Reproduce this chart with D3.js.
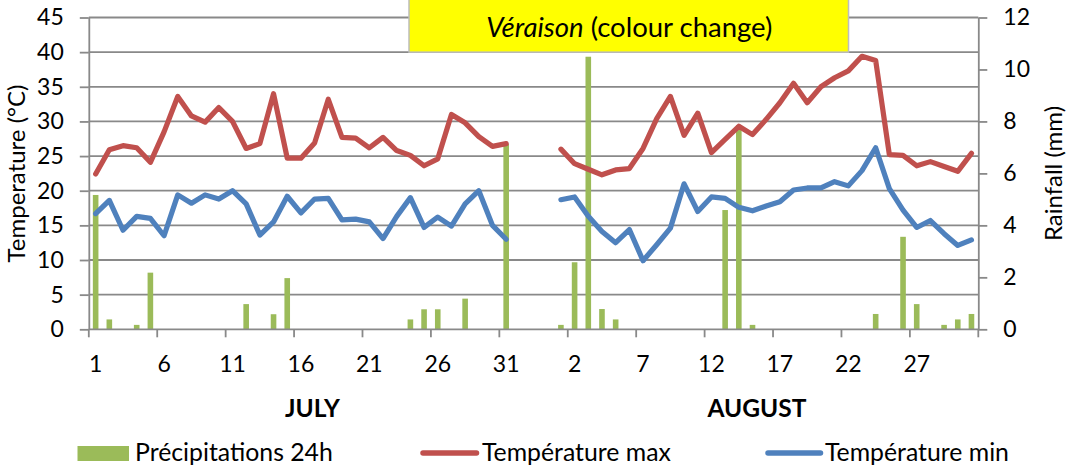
<!DOCTYPE html>
<html><head><meta charset="utf-8">
<script src="https://cdn.jsdelivr.net/npm/d3@7"></script>
<style>
html,body{margin:0;padding:0;background:#fff;}
svg{display:block;font-family:Lato,"Noto Sans",sans-serif;}
</style></head>
<body>
<svg id="chart" width="1070" height="468"></svg>
<script>
// ---------------- DATA ----------------
const julyDays = d3.range(1, 32);
const augustDays = d3.range(1, 32);
const gapCount = 3;

const julyMax = [22.4,25.9,26.5,26.2,24.1,28.5,33.6,30.8,29.9,32.0,30.0,26.1,26.8,34.0,24.7,24.7,26.9,33.2,27.7,27.6,26.2,27.7,25.8,25.1,23.6,24.6,31.0,29.8,27.8,26.4,26.8];
const julyMin = [16.7,18.6,14.3,16.3,16.0,13.5,19.4,18.2,19.4,18.8,20.0,18.1,13.6,15.5,19.2,16.8,18.8,18.9,15.8,15.9,15.5,13.1,16.3,19.0,14.7,16.2,14.9,18.1,20.0,15.0,13.0];
const julyRain = [5.17,0.38,0,0.17,2.18,0,0,0,0,0,0,0.97,0,0.58,1.97,0,0,0,0,0,0,0,0,0.38,0.77,0.77,0,1.18,0,0,7.13];

const augMax = [26.0,23.9,23.1,22.3,23.0,23.2,26.1,30.4,33.6,28.0,31.2,25.5,27.4,29.3,28.1,30.3,32.7,35.5,32.7,35.0,36.3,37.3,39.4,38.8,25.2,25.1,23.6,24.2,23.5,22.8,25.4];
const augMin = [18.7,19.1,16.3,14.1,12.5,14.4,9.9,12.2,14.6,21.0,17.0,19.1,18.9,17.6,17.1,17.8,18.4,20.1,20.4,20.4,21.3,20.7,22.9,26.2,20.3,17.2,14.7,15.7,13.8,12.1,12.9];
const augRain = [0.17,2.58,10.49,0.78,0.38,0,0,0,0,0,0,0,4.59,7.86,0.17,0,0,0,0,0,0,0,0,0.59,0,3.56,0.97,0,0.17,0.38,0.59];

const tempTicks = [0,5,10,15,20,25,30,35,40,45];
const rainTicks = [0,2,4,6,8,10,12];
const monthLabels = ["JULY","AUGUST"];
const legendLabels = ["Précipitations 24h","Température max","Température min"];
const leftTitle = "Temperature (°C)";
const rightTitle = "Rainfall (mm)";
const annotation = ["Véraison"," (colour change)"];

// ---------------- BUILD CATEGORIES ----------------
const cats = [];
julyDays.forEach((d,i)=>cats.push({label:String(d), max:julyMax[i], min:julyMin[i], rain:julyRain[i], month:0}));
for(let g=0; g<gapCount; g++) cats.push({label:"", max:null, min:null, rain:null, month:-1});
augustDays.forEach((d,i)=>cats.push({label:String(d), max:augMax[i], min:augMin[i], rain:augRain[i], month:1}));
cats.forEach((c,i)=>c.i=i);

// ---------------- LAYOUT ----------------
const X0 = 88.8, X1 = 978.3, Y0 = 329.3, Y1 = 17.5;
const C = {red:"#C0504D", blue:"#4F81BD", green:"#9BBB59", grid:"#898989"};
const FS = 23;      // tick labels
const FL = 24.8;    // legend
const FT = 24;      // axis titles

const svg = d3.select("#chart");
const x = d3.scaleBand().domain(cats.map(c=>c.i)).range([X0, X1]).padding(0);
const yT = d3.scaleLinear().domain([0,45]).range([Y0, Y1]);
const yR = d3.scaleLinear().domain([0,12]).range([Y0, Y1]);

// gridlines
svg.append("g").selectAll("line").data(tempTicks.filter(t=>t>0)).join("line")
  .attr("x1", X0).attr("x2", X1).attr("y1", d=>yT(d)).attr("y2", d=>yT(d))
  .attr("stroke", C.grid).attr("stroke-width", 1.8);

// annotation box
const bx0 = 409, bx1 = 848.5;
svg.append("rect").attr("x", bx0).attr("y", -2).attr("width", bx1-bx0).attr("height", yT(40)+2)
  .attr("fill", "#FFFF00").attr("stroke", "#BDBDBD").attr("stroke-width", 1.5);
svg.append("clipPath").attr("id","boxclip").append("rect")
  .attr("x", bx0).attr("y", 0).attr("width", bx1-bx0).attr("height", 42);
const at = svg.append("text").attr("x", (bx0+bx1)/2 + 0.5).attr("y", 37).attr("text-anchor","middle")
  .attr("font-size", 27.5).attr("clip-path","url(#boxclip)").attr("fill","#000");
at.append("tspan").attr("font-style","italic").text(annotation[0]);
at.append("tspan").text(annotation[1]);

// bars
const bw = 5.6;
svg.append("g").selectAll("rect").data(cats.filter(c=>c.rain)).join("rect")
  .attr("x", d=>x(d.i)+x.bandwidth()/2-bw/2).attr("width", bw)
  .attr("y", d=>yR(d.rain)).attr("height", d=>yR(0)-yR(d.rain))
  .attr("fill", C.green);

// lines
const lineMax = d3.line().defined(d=>d.max!=null).x(d=>x(d.i)+x.bandwidth()/2).y(d=>yT(d.max));
const lineMin = d3.line().defined(d=>d.min!=null).x(d=>x(d.i)+x.bandwidth()/2).y(d=>yT(d.min));
svg.append("path").datum(cats).attr("d", lineMax).attr("fill","none").attr("stroke", C.red)
  .attr("stroke-width", 5.2).attr("stroke-linejoin","round").attr("stroke-linecap","round");
svg.append("path").datum(cats).attr("d", lineMin).attr("fill","none").attr("stroke", C.blue)
  .attr("stroke-width", 5.2).attr("stroke-linejoin","round").attr("stroke-linecap","round");

// left axis
const gL = svg.append("g").attr("transform", `translate(${X0},0)`)
  .call(d3.axisLeft(yT).tickValues(tempTicks).tickSize(9).tickPadding(16).tickSizeOuter(0));
// right axis
const gR = svg.append("g").attr("transform", `translate(${X1},0)`)
  .call(d3.axisRight(yR).tickValues(rainTicks).tickSize(9).tickPadding(16).tickSizeOuter(0));
[gL,gR].forEach(g=>{
  g.select(".domain").attr("stroke", C.grid).attr("stroke-width", 1.8);
  g.selectAll(".tick line").attr("stroke", C.grid).attr("stroke-width", 1.8);
  g.selectAll(".tick text").attr("font-size", FS).attr("font-family","Lato").attr("fill","#000");
});

// bottom axis (category axis, tick interval 5)
const gB = svg.append("g");
gB.append("line").attr("x1", X0).attr("x2", X1).attr("y1", Y0).attr("y2", Y0)
  .attr("stroke", C.grid).attr("stroke-width", 1.8);
const tickIdx = cats.filter(c=>c.i%5===0).map(c=>x(c.i)).concat([X1]);
gB.selectAll("line.t").data(tickIdx).join("line").attr("class","t")
  .attr("x1", d=>d).attr("x2", d=>d).attr("y1", Y0).attr("y2", Y0+8)
  .attr("stroke", C.grid).attr("stroke-width", 1.8);
gB.selectAll("text").data(cats.filter(c=>c.i%5===0 && c.label)).join("text")
  .attr("x", d=>x(d.i)+x.bandwidth()/2).attr("y", 372).attr("text-anchor","middle")
  .attr("font-size", FS).text(d=>d.label);

// month labels
svg.append("g").selectAll("text").data(monthLabels).join("text")
  .attr("x", (d,i)=>[312.5,757][i]).attr("y", 416.5).attr("text-anchor","middle")
  .attr("font-size", 24.5).attr("font-weight","bold").text(d=>d);

// axis titles
svg.append("text").attr("transform","translate(24.5,173.5) rotate(-90)").attr("text-anchor","middle")
  .attr("font-size", FT).text(leftTitle);
svg.append("text").attr("transform","translate(1061.5,173.5) rotate(-90)").attr("text-anchor","middle")
  .attr("font-size", FT).text(rightTitle);

// legend
const lg = svg.append("g");
lg.append("rect").attr("x", 77.5).attr("y", 446).attr("width", 51.5).attr("height", 15).attr("fill", C.green);
lg.append("text").attr("x", 135).attr("y", 461).attr("font-size", FL).text(legendLabels[0]);
lg.append("line").attr("x1", 423).attr("x2", 476.5).attr("y1", 453).attr("y2", 453)
  .attr("stroke", C.red).attr("stroke-width", 5.5).attr("stroke-linecap","round");
lg.append("text").attr("x", 482).attr("y", 461).attr("font-size", FL).text(legendLabels[1]);
lg.append("line").attr("x1", 768).attr("x2", 820.5).attr("y1", 453).attr("y2", 453)
  .attr("stroke", C.blue).attr("stroke-width", 5.5).attr("stroke-linecap","round");
lg.append("text").attr("x", 825).attr("y", 461).attr("font-size", FL).text(legendLabels[2]);
</script>
</body></html>
